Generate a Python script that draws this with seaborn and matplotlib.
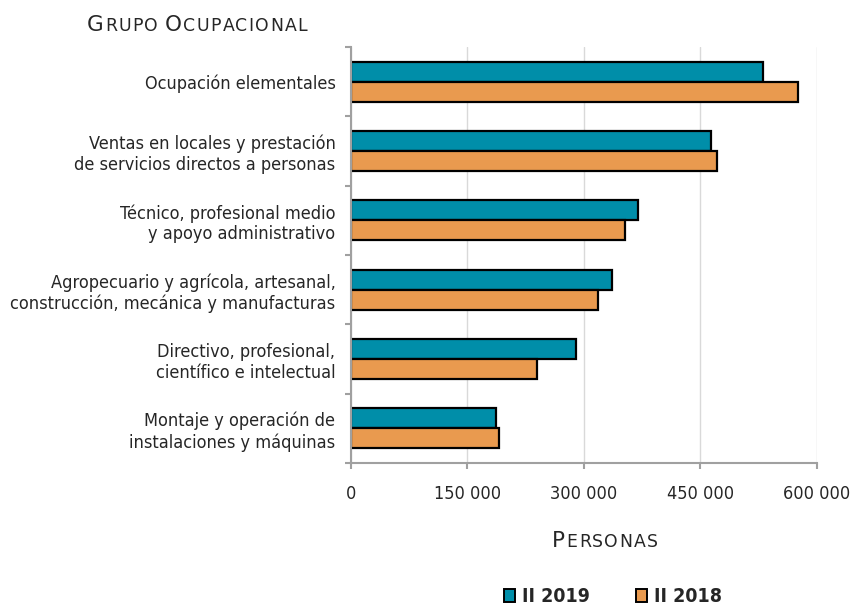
import matplotlib
matplotlib.use("Agg")
import matplotlib.pyplot as plt
import seaborn as sns
import pandas as pd
from matplotlib import font_manager as fm
from matplotlib.ticker import FuncFormatter, FixedLocator
from matplotlib.patches import Patch

categorias = [
    "Ocupación elementales",
    "Ventas en locales y prestación\nde servicios directos a personas",
    "Técnico, profesional medio\ny apoyo administrativo",
    "Agropecuario y agrícola, artesanal,\nconstrucción, mecánica y manufacturas",
    "Directivo, profesional,\ncientífico e intelectual",
    "Montaje y operación de\ninstalaciones y máquinas",
]
valores_2019 = [530500, 463500, 369900, 336400, 289700, 186700]
valores_2018 = [575500, 472000, 352800, 318400, 240300, 191300]
series = ["II 2019", "II 2018"]
xticks = [0, 150000, 300000, 450000, 600000]
colores = ["#008EA9", "#E99A4F"]

df = pd.DataFrame({
    "Grupo": categorias * 2,
    "Personas": valores_2019 + valores_2018,
    "Periodo": [series[0]] * len(categorias) + [series[1]] * len(categorias),
})

sns.set_theme(style="white")
names = {f.name for f in fm.fontManager.ttflist}
stretch = "normal"
if "Liberation Sans Narrow" in names:
    fam = "Liberation Sans Narrow"
else:
    fam = "DejaVu Sans"
    stretch = "condensed"
plt.rcParams["font.family"] = [fam, "DejaVu Sans"]
plt.rcParams["font.stretch"] = stretch
txt = "#262626"

fig = plt.figure(figsize=(8.52, 6.10), dpi=100)
ax = fig.add_axes([350.7 / 852, 1 - 463 / 610, 466 / 852, 416 / 610])

sns.barplot(data=df, y="Grupo", x="Personas", hue="Periodo", orient="h",
            palette=colores, width=0.58, edgecolor="black", linewidth=1.6,
            ax=ax, legend=False, saturation=1)

ax.set_xlim(0, 600000)
ax.set_ylim(len(categorias) - 0.5, -0.5)
ax.xaxis.set_major_locator(FixedLocator(xticks))
ax.xaxis.set_major_formatter(FuncFormatter(lambda v, p: f"{int(v):,}".replace(",", " ")))
ax.grid(axis="x", color="#D9D9D9", linewidth=1)
ax.grid(axis="y", visible=False)
ax.set_axisbelow(True)

for s in ["top", "right"]:
    ax.spines[s].set_visible(False)
for s in ["left", "bottom"]:
    ax.spines[s].set_color("#A0A0A0")
    ax.spines[s].set_linewidth(1.5)

ax.tick_params(axis="y", which="major", length=0, pad=11, labelsize=13, labelcolor=txt)
ax.yaxis.set_minor_locator(FixedLocator([i - 0.5 for i in range(len(categorias) + 1)]))
ax.tick_params(axis="y", which="minor", length=4, width=1.5, color="#A0A0A0", left=True)
ax.tick_params(axis="x", which="major", length=4, width=1.5, color="#A0A0A0",
               bottom=True, pad=12, labelsize=13, labelcolor=txt)
ax.set_xlabel("")
ax.set_ylabel("")

TRACK = 1.3


def small_caps(x, y, text, size):
    renderer = fig.canvas.get_renderer()
    cur = x
    made = []
    words = text.split(" ")
    for wi, w in enumerate(words):
        for ci, ch in enumerate(w):
            fs = size if ci == 0 else size * 0.8
            t = fig.text(cur, y, ch.upper(), fontsize=fs, color=txt, fontstretch="normal",
                         va="baseline", ha="left", transform=None)
            cur += t.get_window_extent(renderer).width + TRACK
            made.append(t)
        if wi < len(words) - 1:
            cur += size * 0.4
    return cur - TRACK - x, made


def centred_small_caps(cx, y, text, size):
    width, made = small_caps(0, -100, text, size)
    for t in made:
        t.remove()
    small_caps(cx - width / 2, y, text, size)


centred_small_caps(197, 610 - 31, "Grupo Ocupacional", 15.5)
centred_small_caps(605, 610 - 547, "Personas", 15.5)

handles = [Patch(facecolor=c, edgecolor="black", linewidth=1.4) for c in colores]
leg = fig.legend(handles, series, loc="center", bbox_to_anchor=(613 / 852, 1 - 597 / 610),
                 ncol=2, frameon=False, handlelength=0.55, handleheight=0.6,
                 handletextpad=0.35, columnspacing=2.4,
                 prop={"size": 14, "weight": "bold"})
for t in leg.get_texts():
    t.set_color(txt)

fig.savefig("out.png", dpi=100)
